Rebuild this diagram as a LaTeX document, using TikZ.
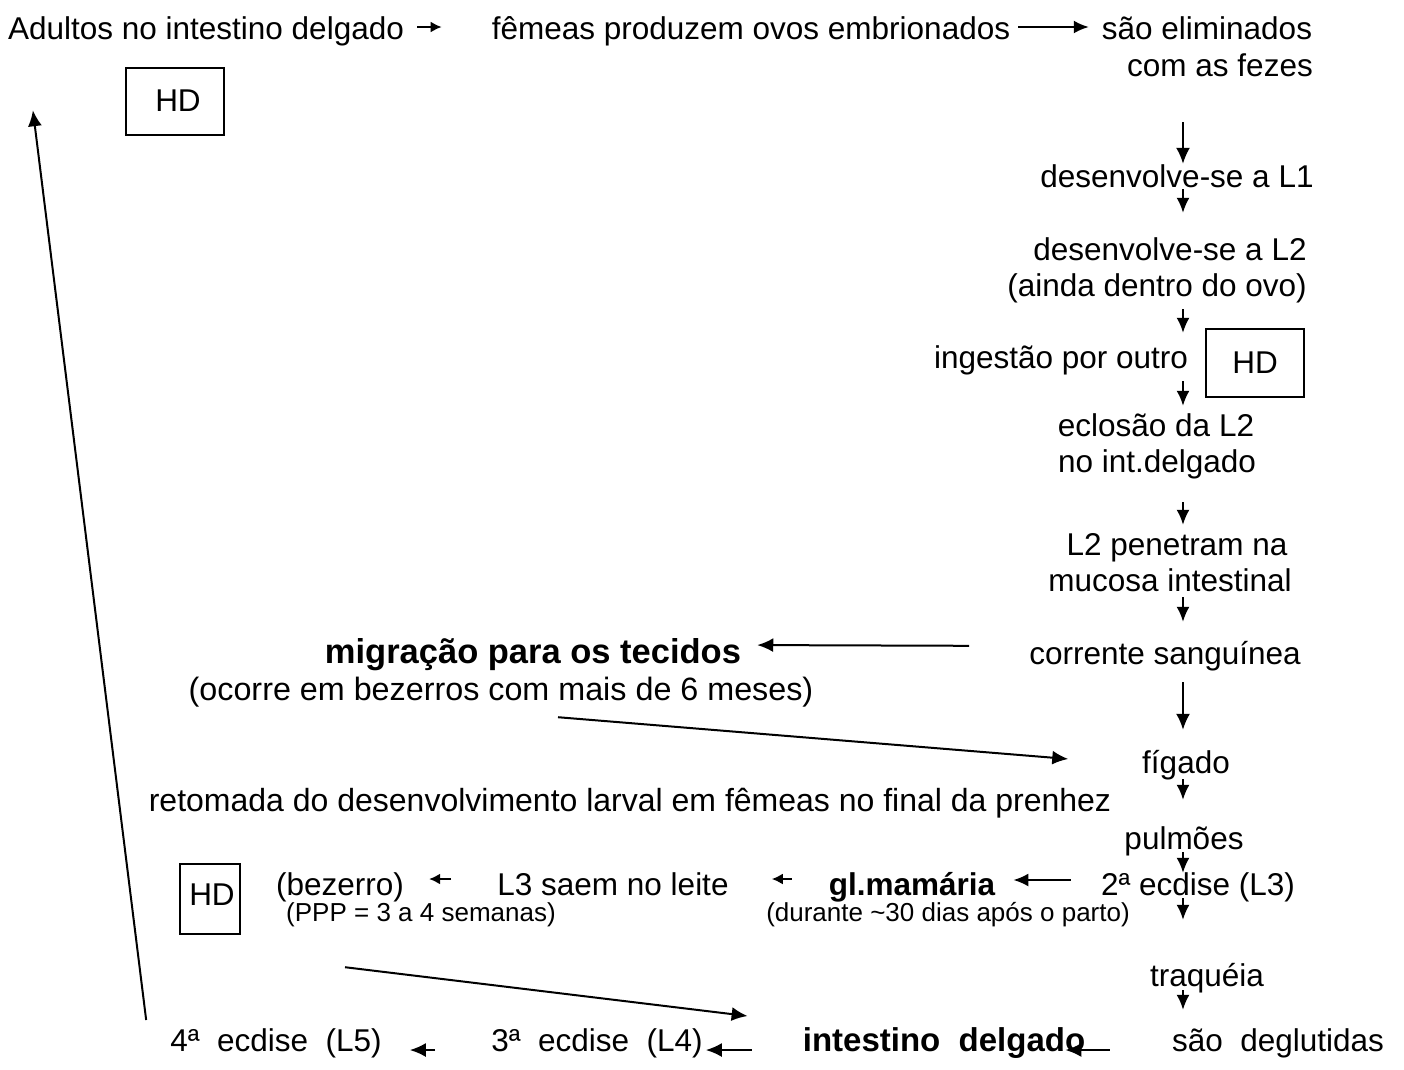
\documentclass[tikz,border=0pt]{standalone}
\usepackage{fontspec}
\setmainfont{Liberation Sans}
\usetikzlibrary{arrows.meta}

\tikzset{
  txt/.style={inner sep=0pt, anchor=base, text height=23pt, text depth=7pt,
    font=\fontsize{31.5}{37}\selectfont},
  boldtxt/.style={txt, font=\fontsize{31.5}{37}\selectfont\bfseries},
  note/.style={inner sep=0pt, anchor=base, text height=19pt, text depth=6pt,
    font=\fontsize{26}{30}\selectfont},
  hdbox/.style={draw, line width=2pt, inner sep=0pt, align=center,
    font=\fontsize{31.5}{37}\selectfont},
  arr/.style={-{Latex[length=16pt,width=14pt]}, line width=2pt},
  tip/.style={-{Latex[length=15pt,width=13pt]}, line width=2pt},
  smalltip/.style={-{Latex[length=11pt,width=11pt]}, line width=2pt},
}

\begin{document}
\begin{tikzpicture}[x=1pt,y=-1pt]
        \useasboundingbox (0,0) rectangle (1404,1069);
        \coordinate (col) at (1183,0);

        % top row
        \node[txt] (adult)  at (206,39) {Adultos no intestino delgado};
        \node[txt] (femeas) at (751,39) {fêmeas produzem ovos embrionados};
        \node[txt] (elim)   at (1207,39) {são eliminados};
        \node[txt] (fezes)  at (1220,76) {com as fezes};
        \node[hdbox, minimum width=98pt, minimum height=67pt] (hdtop) at (175,101) {\hspace*{6pt}HD};

        % right column
        \node[txt] (L1)     at (1177,187) {desenvolve-se a L1};
        \node[txt] (L2)     at (1170,260) {desenvolve-se a L2};
        \node[txt] (ovo)    at (1157,296) {(ainda dentro do ovo)};
        \node[txt] (ingest) at (1061,368) {ingestão por outro};
        \node[hdbox, minimum width=98pt, minimum height=68pt] (hdright) at (1255,363) {HD};
        \node[txt] (eclos)  at (1156,436) {eclosão da L2};
        \node[txt] (intd2)  at (1157,472) {no int.delgado};
        \node[txt] (pene)   at (1177,555) {L2 penetram na};
        \node[txt] (mucosa) at (1170,591) {mucosa intestinal};
        \node[txt] (corr)   at (1165,664) {corrente sanguínea};
        \node[txt] (fig)    at (1186,773) {fígado};
        \node[txt] (pulm)   at (1184,849) {pulmões};
        \node[txt] (ecd2)   at (1198,895) {2ª ecdise (L3)};
        \node[txt] (traq)   at (1207,986) {traquéia};
        \node[txt] (degl)   at (1278,1051) {são~~deglutidas};

        % middle
        \node[boldtxt, font=\fontsize{34.5}{40}\selectfont\bfseries] (migr) at (533,663) {migração para os tecidos};
        \node[txt, font=\fontsize{32.3}{37}\selectfont] (ocorre) at (501,700) {(ocorre em bezerros com mais de 6 meses)};
        \node[txt, font=\fontsize{32}{37}\selectfont] (retom) at (630,811) {retomada do desenvolvimento larval em fêmeas no final da prenhez};

        % mammary row
        \node[hdbox, minimum width=60pt, minimum height=70pt] (hdcalf) at (210,899) {\raisebox{9pt}{\hspace*{4pt}HD}};
        \node[txt]     (bez)   at (340,895) {(bezerro)};
        \node[note]    (ppp)   at (421,921) {(PPP = 3 a 4 semanas)};
        \node[txt]     (leite) at (613,895) {L3 saem no leite};
        \node[boldtxt] (mama)  at (912,895) {gl.mamária};
        \node[note]    (dur)   at (948,921) {(durante \textasciitilde30 dias após o parto)};

        % bottom row
        \node[txt]     (ecd4) at (276,1051) {4ª~~ecdise~~(L5)};
        \node[txt]     (ecd3) at (597,1051) {3ª~~ecdise~~(L4)};
        \node[boldtxt, font=\fontsize{33}{38}\selectfont\bfseries] (intd) at (944,1051) {intestino~~delgado};

        % top arrows
        \draw[smalltip, shorten <=13pt, shorten >=50pt] ([yshift=4pt]adult.east) -- ([yshift=4pt]femeas.west);
        \draw[tip, shorten <=8pt, shorten >=13pt] ([yshift=4pt]femeas.east) -- ([yshift=4pt]elim.west);

        % down the right column
        \draw[arr, shorten <=39pt] (fezes.south -| col) -- (L1.north -| col);
        \draw[tip, shorten <=-5pt, shorten >=24pt] (L1.south -| col) -- (L2.north -| col);
        \draw[tip, shorten <=6pt, shorten >=12pt] (ovo.south -| col) -- (ingest.north -| col);
        \draw[tip, shorten <=6pt, shorten >=7pt] (ingest.south -| col) -- (eclos.north -| col);
        \draw[tip, shorten <=23pt, shorten >=7pt] (intd2.south -| col) -- (pene.north -| col);
        \draw[tip, shorten <=-1pt, shorten >=19pt] (mucosa.south -| col) -- (corr.north -| col);
        \draw[arr, shorten <=11pt, shorten >=20pt] (corr.south -| col) -- (fig.north -| col);
        \draw[tip, shorten <=-1pt, shorten >=26pt] (fig.south -| col) -- (pulm.north -| col);
        \draw[tip, shorten <=-4pt, shorten >=-1pt] (pulm.south -| col) -- (ecd2.north -| col);
        \draw[tip, shorten <=-4pt, shorten >=43pt] (ecd2.south -| col) -- (traq.north -| col);
        \draw[tip, shorten <=-3pt, shorten >=18pt] (traq.south -| col) -- (degl.north -| col);

        % tissue migration
        \draw[arr, shorten <=60pt, shorten >=16pt] ([yshift=10pt]corr.west) -- ([yshift=10pt]migr.east);
        \draw[arr, shorten >=74pt] ([xshift=57pt,yshift=-10pt]ocorre.south) -- (fig.west);

        % mammary route
        \draw[tip, shorten <=30pt, shorten >=18pt] ([yshift=7pt]ecd2.west) -- ([yshift=7pt]mama.east);
        \draw[smalltip, shorten <=37pt, shorten >=43pt] ([yshift=8pt]mama.west) -- ([yshift=8pt]leite.east);
        \draw[smalltip, shorten <=46pt, shorten >=25pt] ([yshift=8pt]leite.west) -- ([yshift=8pt]bez.east);
        \draw[arr] ([xshift=-76pt,yshift=-40pt]ppp.south) -- ([xshift=-55pt,yshift=27pt]intd.west);

        % bottom row
        \draw[arr, shorten <=62pt, shorten >=-20pt] ([yshift=-7pt]degl.west) -- ([yshift=-7pt]intd.east);
        \draw[arr, shorten <=51pt, shorten >=3pt] ([yshift=-7pt]intd.west) -- ([yshift=-7pt]ecd3.east);
        \draw[arr, shorten <=56pt, shorten >=28pt] ([yshift=-7pt]ecd3.west) -- ([yshift=-7pt]ecd4.east);

        % back to the adults
        \draw[arr] ([xshift=-24pt,yshift=23pt]ecd4.west) -- ([xshift=25pt,yshift=-64pt]adult.south west);
\end{tikzpicture}
\end{document}
